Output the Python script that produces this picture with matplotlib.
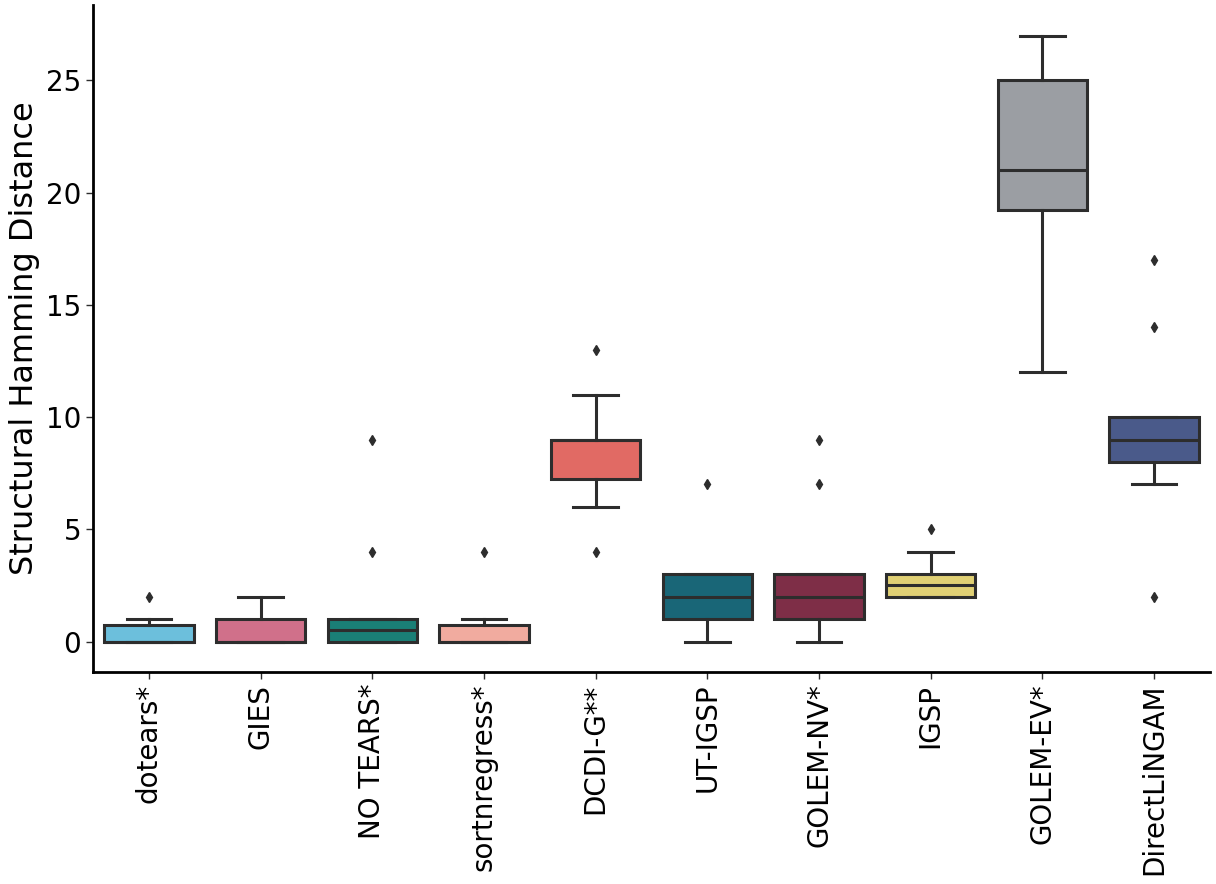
import matplotlib
matplotlib.use("Agg")
import matplotlib.pyplot as plt

# box statistics
methods = ["dotears*", "GIES", "NO TEARS*", "sortnregress*", "DCDI-G**",
           "UT-IGSP", "GOLEM-NV*", "IGSP", "GOLEM-EV*", "DirectLiNGAM"]
q1 = [0, 0, 0, 0, 7.25, 1, 1, 2, 19.25, 8]
med = [0, 0, 0.5, 0, 9, 2, 2, 2.5, 21, 9]
q3 = [0.75, 1, 1, 0.75, 9, 3, 3, 3, 25, 10]
whislo = [0, 0, 0, 0, 6, 0, 0, 2, 12, 7]
whishi = [1, 2, 1, 1, 11, 3, 3, 4, 27, 10]
fliers = [[2], [], [4, 9], [4], [4, 13], [7], [7, 9], [5], [], [2, 14, 17]]
colors = ["#6CBFDC", "#D0708A", "#1A7F76", "#F1AB9F", "#E16A64",
          "#196677", "#7E2E47", "#E0D074", "#9B9EA3", "#4A5A8A"]

line_col = "#2d2d2d"

stats = []
for i, name in enumerate(methods):
    stats.append(dict(label=name, q1=q1[i], med=med[i], q3=q3[i],
                      whislo=whislo[i], whishi=whishi[i], fliers=fliers[i]))

fig = plt.figure(figsize=(12.16, 8.84), dpi=100)
ax = fig.add_axes([0.0765, 0.24, 0.9185, 0.754])

bp = ax.bxp(stats, positions=range(len(methods)), widths=0.8,
            patch_artist=True, capwidths=0.4,
            boxprops=dict(edgecolor=line_col, linewidth=2.2),
            medianprops=dict(color=line_col, linewidth=2.2),
            whiskerprops=dict(color=line_col, linewidth=2.2),
            capprops=dict(color=line_col, linewidth=2.2),
            flierprops=dict(marker="d", markerfacecolor=line_col,
                            markeredgecolor=line_col, markersize=5))
for patch, c in zip(bp["boxes"], colors):
    patch.set_facecolor(c)

ax.set_xlim(-0.5, len(methods) - 0.5)
ax.set_xticks(range(len(methods)))
ax.set_xticklabels(methods, rotation=90, fontsize=20)
ax.set_yticks([0, 5, 10, 15, 20, 25])
ax.tick_params(axis="y", labelsize=20)
ax.tick_params(length=5, width=1, color=line_col)
ax.set_ylabel("Structural Hamming Distance", fontsize=23)

for side in ["top", "right"]:
    ax.spines[side].set_visible(False)
for side in ["left", "bottom"]:
    ax.spines[side].set_linewidth(2)

fig.savefig("out.png", dpi=100)
